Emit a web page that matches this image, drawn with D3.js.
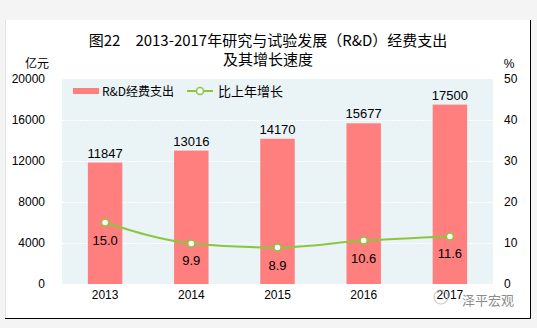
<!DOCTYPE html>
<html><head><meta charset="utf-8">
<script src="https://cdn.jsdelivr.net/npm/d3@7/dist/d3.min.js"></script>
<style>body{margin:0;background:#f4f4f4;}svg{display:block;}</style>
</head><body>
<script>
const years = ["2013","2014","2015","2016","2017"];
const spending = [11847, 13016, 14170, 15677, 17500];
const growth = [15.0, 9.9, 8.9, 10.6, 11.6];
const leftTicks = [0, 4000, 8000, 12000, 16000, 20000];
const rightTicks = [0, 10, 20, 30, 40, 50];
const titleLines = ["图22　2013-2017年研究与试验发展（R&D）经费支出", "及其增长速度"];

const W = 537, H = 328;
const svg = d3.select("body").append("svg").attr("width", W).attr("height", H);
const num = "'Liberation Sans', Arial, sans-serif";
const cjk = "'Noto Sans CJK SC', sans-serif";

// white card
svg.append("rect").attr("x", 5).attr("y", 20).attr("width", 525).attr("height", 298).attr("fill", "#fff");
svg.append("line").attr("x1", 530.5).attr("x2", 530.5).attr("y1", 20).attr("y2", 318.5).attr("stroke", "#000");
svg.append("line").attr("x1", 5).attr("x2", 530.5).attr("y1", 318.5).attr("y2", 318.5).attr("stroke", "#000");
svg.append("line").attr("x1", 5.5).attr("x2", 5.5).attr("y1", 20).attr("y2", 318).attr("stroke", "#e4e4e4");

const m = {l: 62, r: 493, t: 79, b: 284};
const x = d3.scaleBand().domain(years).range([m.l, m.r]).paddingInner(0.6).paddingOuter(0.3);
const yL = d3.scaleLinear().domain([0, 20000]).range([m.b, m.t]);
const yR = d3.scaleLinear().domain([0, 50]).range([m.b, m.t]);

// plot background
svg.append("rect").attr("x", m.l).attr("y", m.t).attr("width", m.r - m.l).attr("height", m.b - m.t)
  .attr("fill", "#eaf4f7").attr("rx", 2);

// gridlines
svg.append("g").selectAll("line").data(leftTicks.slice(1, -1)).join("line")
  .attr("x1", m.l).attr("x2", m.r).attr("y1", d => Math.round(yL(d)) + 0.5).attr("y2", d => Math.round(yL(d)) + 0.5)
  .attr("stroke", "#fff").attr("stroke-width", 1).attr("stroke-dasharray", "2,1");

// bars
svg.append("g").selectAll("rect").data(spending).join("rect")
  .attr("x", (d, i) => x(years[i])).attr("width", x.bandwidth())
  .attr("y", d => yL(d)).attr("height", d => yL(0) - yL(d))
  .attr("fill", "#ff7f7f");

// bar labels
svg.append("g").selectAll("text").data(spending).join("text")
  .attr("x", (d, i) => x(years[i]) + x.bandwidth() / 2).attr("y", d => yL(d) - 5)
  .attr("text-anchor", "middle").attr("font-family", num).attr("font-size", 13).attr("fill", "#000")
  .text(d => d);

// line
const cx = (d, i) => x(years[i]) + x.bandwidth() / 2;
const line = d3.line().x((d, i) => cx(d, i)).y(d => yR(d)).curve(d3.curveMonotoneX);
svg.append("path").datum(growth).attr("d", line).attr("fill", "none")
  .attr("stroke", "#8cc63f").attr("stroke-width", 2);
svg.append("g").selectAll("circle").data(growth).join("circle")
  .attr("cx", cx).attr("cy", d => yR(d)).attr("r", 3.5)
  .attr("fill", "#fff").attr("stroke", "#8cc63f").attr("stroke-width", 1.5);
svg.append("g").selectAll("text").data(growth).join("text")
  .attr("x", cx).attr("y", d => yR(d) + 22)
  .attr("text-anchor", "middle").attr("font-family", num).attr("font-size", 13).attr("fill", "#000")
  .text(d => d.toFixed(1));

// axes
const axL = svg.append("g").attr("transform", `translate(${m.l},0)`)
  .call(d3.axisLeft(yL).tickValues(leftTicks).tickSize(0).tickPadding(17).tickFormat(d3.format("d")));
axL.select(".domain").remove();
axL.selectAll("text").attr("font-family", num).attr("font-size", 12).attr("fill", "#000");

const axR = svg.append("g").attr("transform", `translate(${m.r},0)`)
  .call(d3.axisRight(yR).tickValues(rightTicks).tickSize(0).tickPadding(11));
axR.select(".domain").remove();
axR.selectAll("text").attr("font-family", num).attr("font-size", 12).attr("fill", "#000");

const axB = svg.append("g").attr("transform", `translate(0,${m.b})`)
  .call(d3.axisBottom(x).tickSize(0).tickPadding(6));
axB.select(".domain").remove();
axB.selectAll("text").attr("font-family", num).attr("font-size", 12).attr("fill", "#000");

// units
svg.append("text").attr("x", 37).attr("y", 68).attr("text-anchor", "middle")
  .attr("font-family", cjk).attr("font-size", 12).text("亿元");
svg.append("text").attr("x", 509).attr("y", 68).attr("text-anchor", "middle")
  .attr("font-family", num).attr("font-size", 12).text("%");

// title
svg.append("g").selectAll("text").data(titleLines).join("text")
  .attr("x", 268).attr("y", (d, i) => 46 + i * 19).attr("text-anchor", "middle")
  .attr("font-family", cjk).attr("font-size", 15).attr("font-weight", 400).attr("fill", "#000")
  .text(d => d);

// legend
const lg = svg.append("g");
lg.append("rect").attr("x", 73).attr("y", 88).attr("width", 26).attr("height", 6).attr("fill", "#ff7f7f");
lg.append("text").attr("x", 102).attr("y", 96).attr("font-family", cjk).attr("font-size", 12).text("R&D经费支出");
lg.append("line").attr("x1", 187).attr("x2", 213).attr("y1", 91).attr("y2", 91).attr("stroke", "#8cc63f").attr("stroke-width", 2);
lg.append("circle").attr("cx", 200).attr("cy", 91).attr("r", 3.5).attr("fill", "#fff").attr("stroke", "#8cc63f").attr("stroke-width", 1.5);
lg.append("text").attr("x", 218).attr("y", 96).attr("font-family", cjk).attr("font-size", 13).text("比上年增长");

// watermark
const wm = svg.append("g").attr("opacity", 0.75);
wm.append("circle").attr("cx", 441).attr("cy", 297).attr("r", 7).attr("fill", "none").attr("stroke", "#bbb").attr("stroke-width", 1.2);
wm.append("text").attr("x", 462).attr("y", 305).attr("font-family", cjk).attr("font-size", 13).attr("fill", "#666").text("泽平宏观");
</script>
</body></html>
